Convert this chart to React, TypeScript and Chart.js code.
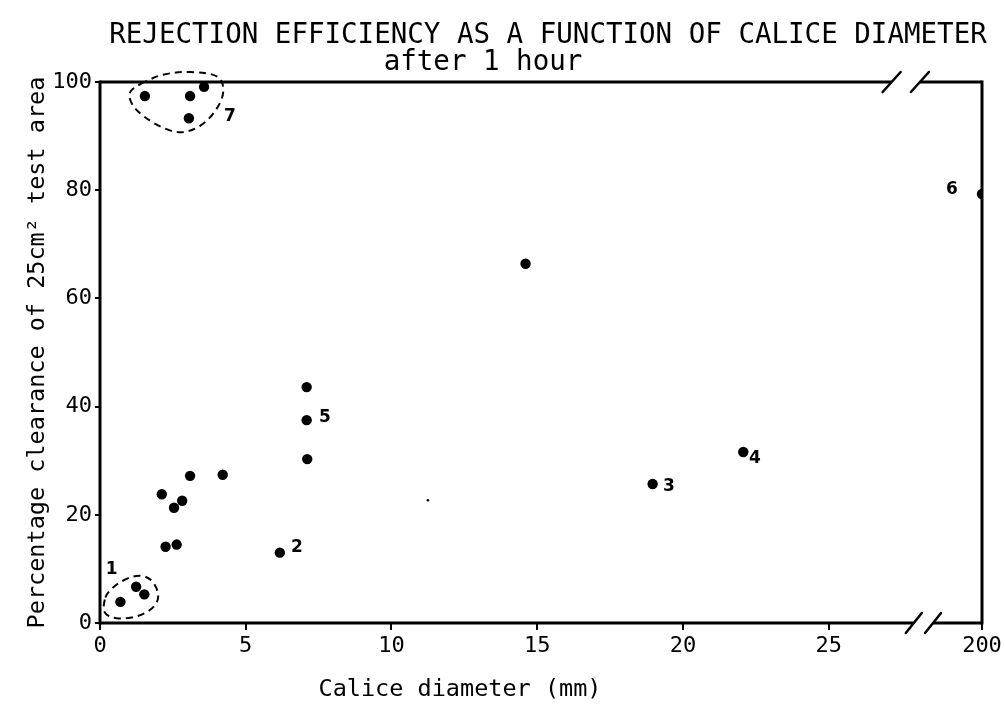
import React, { useEffect, useRef } from "react";
import { Chart, registerables } from "chart.js";

Chart.register(...registerables);

// ---- data ----
const diameterMm = [0.7, 1.24, 1.52, 2.12, 2.25, 2.54, 2.63, 2.82, 3.09, 4.21, 6.17, 7.09, 7.09, 7.11, 14.6, 18.96, 22.07, 200, 1.54, 3.09, 3.57, 3.05];
const clearancePct = [3.9, 6.7, 5.3, 23.8, 14.1, 21.3, 14.5, 22.6, 27.2, 27.4, 13.0, 43.6, 37.5, 30.3, 66.4, 25.7, 31.6, 79.3, 97.4, 97.4, 99.1, 93.3];

const speckX = [11.25];
const speckY = [22.7];

const xTickValues = [0, 5, 10, 15, 20, 25, 200];
const xTickLabels = ["0", "5", "10", "15", "20", "25", "200"];
const yTickValues = [0, 20, 40, 60, 80, 100];

const groupLabels = ["1", "2", "3", "4", "5", "6", "7"];
const groupLabelX = [0.4, 6.76, 19.52, 22.47, 7.72, 29.23, 4.46];
const groupLabelY = [9.8, 13.9, 25.3, 30.3, 38.0, 80.2, 93.6];

const cluster7OutlineX = [1.6, 2.06, 2.74, 3.43, 4.0, 4.23, 4.23, 4.0, 3.66, 3.2, 2.69, 2.06, 1.49, 1.09, 0.97, 1.2];
const cluster7OutlineY = [100.2, 101.3, 101.9, 101.8, 101.3, 99.8, 97.3, 94.9, 92.7, 91.1, 90.5, 91.7, 93.6, 95.7, 97.9, 99.1];
const cluster1OutlineX = [0.23, 0.63, 1.2, 1.66, 1.94, 2.03, 1.83, 1.37, 0.8, 0.34, 0.11, 0.14];
const cluster1OutlineY = [5.49, 7.45, 8.87, 8.56, 6.71, 4.57, 2.72, 1.29, 0.74, 1.05, 2.09, 3.94];

// axis break: the "200" value is drawn at this axis position
const AXIS_POS_200 = 30.26;
const topBreak = [27.16, 28.13];
const bottomBreak = [27.92, 28.58];

const TITLE = "REJECTION EFFICIENCY AS A FUNCTION OF CALICE DIAMETER";
const SUBTITLE = "after 1 hour";
const X_TITLE = "Calice diameter (mm)";
const Y_TITLE = "Percentage clearance of 25cm\u00B2 test area";

const MONO = "'DejaVu Sans Mono', monospace";

const toAxis = (v: number) => (v > 100 ? AXIS_POS_200 : v);

function smoothClosed(ctx: CanvasRenderingContext2D, pts: { x: number; y: number }[]) {
  const n = pts.length;
  const mid = (a: any, b: any) => ({ x: (a.x + b.x) / 2, y: (a.y + b.y) / 2 });
  const m0 = mid(pts[n - 1], pts[0]);
  ctx.beginPath();
  ctx.moveTo(m0.x, m0.y);
  for (let i = 0; i < n; i++) {
    const p = pts[i];
    const m = mid(p, pts[(i + 1) % n]);
    ctx.quadraticCurveTo(p.x, p.y, m.x, m.y);
  }
  ctx.closePath();
  ctx.stroke();
}

const decorPlugin = {
  id: "decor",
  beforeDatasetsDraw(chart: any) {
    const { ctx, chartArea } = chart;
    const { left, right, top, bottom } = chartArea;
    const xs = chart.scales.x;
    const t0 = xs.getPixelForValue(topBreak[0]);
    const t1 = xs.getPixelForValue(topBreak[1]);
    const b0 = xs.getPixelForValue(bottomBreak[0]);
    const b1 = xs.getPixelForValue(bottomBreak[1]);
    ctx.save();
    ctx.strokeStyle = "#000";
    ctx.lineWidth = 3;
    ctx.lineCap = "butt";
    const line = (x1: number, y1: number, x2: number, y2: number) => {
      ctx.beginPath();
      ctx.moveTo(x1, y1);
      ctx.lineTo(x2, y2);
      ctx.stroke();
    };
    line(left, top - 1.5, left, bottom + 1.5);
    line(right, top - 1.5, right, bottom + 1.5);
    line(left, top, t0, top);
    line(t1, top, right, top);
    line(left, bottom, b0, bottom);
    line(b1, bottom, right, bottom);
    ctx.lineWidth = 2.5;
    ctx.lineCap = "round";
    for (const x of [t0, t1]) line(x - 9, top + 10, x + 9, top - 10);
    for (const x of [b0, b1]) line(x - 8, bottom + 10, x + 8, bottom - 10);
    ctx.restore();
  },
  afterDatasetsDraw(chart: any) {
    const { ctx } = chart;
    const xs = chart.scales.x;
    const ys = chart.scales.y;
    ctx.save();
    ctx.strokeStyle = "#000";
    ctx.lineWidth = 2;
    ctx.setLineDash([7, 5]);
    const toPts = (ax: number[], ay: number[]) =>
      ax.map((v, i) => ({ x: xs.getPixelForValue(v), y: ys.getPixelForValue(ay[i]) }));
    smoothClosed(ctx, toPts(cluster7OutlineX, cluster7OutlineY));
    smoothClosed(ctx, toPts(cluster1OutlineX, cluster1OutlineY));
    ctx.setLineDash([]);
    ctx.fillStyle = "#000";
    ctx.font = "bold 17px 'DejaVu Sans', sans-serif";
    ctx.textAlign = "center";
    ctx.textBaseline = "middle";
    groupLabels.forEach((t, i) => {
      ctx.fillText(t, xs.getPixelForValue(groupLabelX[i]), ys.getPixelForValue(groupLabelY[i]));
    });
    ctx.restore();
  },
  afterDraw(chart: any) {
    const { ctx, chartArea } = chart;
    ctx.save();
    ctx.fillStyle = "#000";
    ctx.textAlign = "center";
    ctx.textBaseline = "middle";
    ctx.font = `27.5px ${MONO}`;
    ctx.fillText(TITLE, 548, 36);
    ctx.fillText(SUBTITLE, 483, 63);
    ctx.font = `23.5px ${MONO}`;
    ctx.fillText(X_TITLE, 460, chartArea.bottom + 67);
    ctx.restore();
  },
};

export default function App() {
  const canvasRef = useRef<HTMLCanvasElement | null>(null);

  useEffect(() => {
    const canvas = canvasRef.current;
    if (!canvas) return;
    const chart = new Chart(canvas, {
      type: "scatter",
      data: {
        datasets: [
          {
            label: "Rejection efficiency",
            data: diameterMm.map((d, i) => ({ x: toAxis(d), y: clearancePct[i] })),
            pointRadius: 5.2,
            pointBackgroundColor: "#000",
            pointBorderWidth: 0,
            showLine: false,
          },
          {
            label: "speck",
            data: speckX.map((d, i) => ({ x: d, y: speckY[i] })),
            pointRadius: 1.3,
            pointBackgroundColor: "#000",
            pointBorderWidth: 0,
            showLine: false,
          },
        ],
      },
      options: {
        animation: false,
        responsive: false,
        devicePixelRatio: 1,
        layout: { padding: { top: 82, right: 23, left: 0, bottom: 0 } },
        plugins: {
          legend: { display: false },
          tooltip: { enabled: false },
          title: { display: false },
        },
        scales: {
          x: {
            type: "linear",
            min: 0,
            max: AXIS_POS_200,
            border: { display: false },
            grid: { drawOnChartArea: false, drawTicks: true, tickLength: 7, color: "#000", lineWidth: 2 },
            afterBuildTicks: (scale: any) => {
              scale.ticks = xTickValues.map((v) => ({ value: toAxis(v) }));
            },
            afterFit: (scale: any) => {
              scale.height = 81;
            },
            ticks: {
              autoSkip: false,
              maxRotation: 0,
              padding: 3,
              color: "#000",
              font: { family: MONO, size: 22 },
              callback: (_v: any, i: number) => xTickLabels[i],
            },
          },
          y: {
            type: "linear",
            min: 0,
            max: 100,
            border: { display: false },
            grid: { drawOnChartArea: false, drawTicks: true, tickLength: 5, color: "#000", lineWidth: 2 },
            afterBuildTicks: (scale: any) => {
              scale.ticks = yTickValues.map((v) => ({ value: v }));
            },
            afterFit: (scale: any) => {
              scale.width = 100;
            },
            ticks: {
              padding: 3,
              color: "#000",
              font: { family: MONO, size: 22 },
            },
            title: {
              display: true,
              text: Y_TITLE,
              color: "#000",
              font: { family: MONO, size: 23.5 },
              padding: { top: 24, bottom: 0 },
            },
          },
        },
      },
      plugins: [decorPlugin],
    } as any);
    return () => chart.destroy();
  }, []);

  return (
    <div style={{ position: "absolute", left: 0, top: 0, width: 1005, height: 704, background: "#fff" }}>
      <canvas ref={canvasRef} width={1005} height={704} />
    </div>
  );
}
